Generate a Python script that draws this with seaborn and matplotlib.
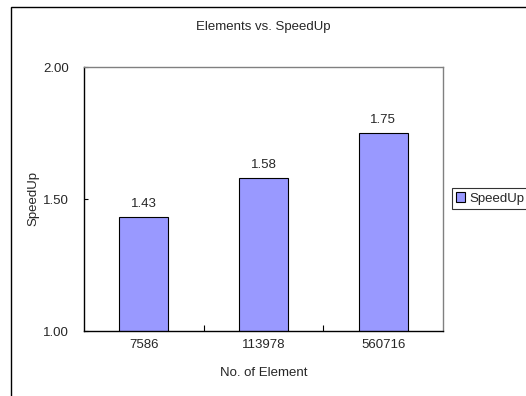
import matplotlib
matplotlib.use("Agg")
import matplotlib.pyplot as plt
import matplotlib.patches as mpatches
import seaborn as sns
import pandas as pd

elements = ["7586", "113978", "560716"]
speedup = [1.43, 1.58, 1.75]
y_ticks = [1.00, 1.50, 2.00]

sns.set_theme(style="white")
plt.rcParams["font.family"] = ["Liberation Sans", "DejaVu Sans"]
FS = 9.5
plt.rcParams["font.size"] = FS

W, H = 526, 396
fig = plt.figure(figsize=(W / 100, H / 100), dpi=100)
ax = fig.add_axes([84 / W, 1 - 331 / H, (443 - 84) / W, (331 - 67) / H])

df = pd.DataFrame({"Element": elements, "SpeedUp": speedup})
sns.barplot(data=df, x="Element", y="SpeedUp", order=elements, color="#9999FF",
            saturation=1, width=0.41, edgecolor="black", linewidth=0.8, ax=ax,
            label="SpeedUp")

ax.set_ylim(1.0, 2.0)
ax.set_xlim(-0.5, 2.5)
ax.set_yticks(y_ticks)
ax.set_yticklabels([f"{v:.2f}" for v in y_ticks], fontsize=FS)
ax.set_xticks([0.5, 1.5], minor=True)
ax.tick_params(axis="x", which="major", length=0, pad=6, labelsize=FS)
ax.tick_params(axis="x", which="minor", direction="in", length=4, width=0.8, color="black", bottom=True)
ax.tick_params(axis="y", direction="in", length=3, width=0.8, color="black", left=True, pad=11)

for side in ["left", "bottom"]:
    ax.spines[side].set_color("black")
    ax.spines[side].set_linewidth(1.0)
for side in ["top", "right"]:
    ax.spines[side].set_visible(True)
    ax.spines[side].set_color("#808080")
    ax.spines[side].set_linewidth(1.0)

for i, v in enumerate(speedup):
    ax.text(i, v + 0.027, f"{v:.2f}", ha="center", va="bottom", fontsize=FS)

ax.set_xlabel("No. of Element", fontsize=FS)
ax.set_ylabel("SpeedUp", fontsize=FS)
ax.yaxis.set_label_coords(-0.125, 0.5)
ax.xaxis.set_label_coords(0.5, -0.135)

fig.text(263 / W, 1 - 27 / H, "Elements vs. SpeedUp", ha="center", va="center", fontsize=FS)

# outer chart frame
fig.patches.append(mpatches.Rectangle((11 / W, -0.1), 1.2, 1 - 7 / H + 0.1,
                                      transform=fig.transFigure, fill=False,
                                      edgecolor="black", linewidth=1.0))

leg = ax.legend(loc="center left", bbox_to_anchor=(452 / W, 1 - 198.5 / H),
                bbox_transform=fig.transFigure, frameon=True, fancybox=False,
                fontsize=FS, handlelength=0.7, handleheight=0.7, handletextpad=0.3,
                borderpad=0.3, borderaxespad=0)
leg.get_frame().set_edgecolor("black")
leg.get_frame().set_linewidth(0.8)

fig.savefig("out.png", dpi=100)
